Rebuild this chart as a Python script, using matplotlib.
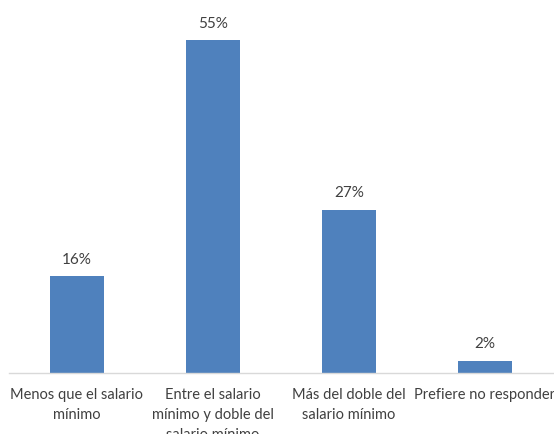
import numpy as np
import matplotlib.pyplot as plt

categorias = ["Menos que el salario\nmínimo",
              "Entre el salario\nmínimo y doble del\nsalario mínimo",
              "Más del doble del\nsalario mínimo",
              "Prefiere no responder"]
valores = [16, 55, 27, 2]

plt.rcParams['font.family'] = ['Lato', 'DejaVu Sans']

fig = plt.figure(figsize=(5.54, 4.34), dpi=100)
ax = fig.add_axes([9 / 554, 61 / 434, 544 / 554, 363 / 434])

x = np.arange(len(valores))
ax.bar(x, valores, width=0.4, color='#4F81BD', zorder=2)
for xi, v in zip(x, valores):
    ax.text(xi, v + 1.6, f"{v}%", ha='center', va='bottom', fontsize=11, color='#404040')

ax.set_xlim(-0.5, 3.5)
ax.set_ylim(0, 60)
ax.set_yticks([])
ax.set_xticks(x)
ax.set_xticklabels(categorias, fontsize=10.5, color='#404040', linespacing=1.55)
ax.tick_params(axis='x', length=0, pad=11)
for s in ['top', 'right', 'left']:
    ax.spines[s].set_visible(False)
ax.spines['bottom'].set_color('#D9D9D9')
ax.spines['bottom'].set_linewidth(1)

fig.savefig('out.png', dpi=100)
